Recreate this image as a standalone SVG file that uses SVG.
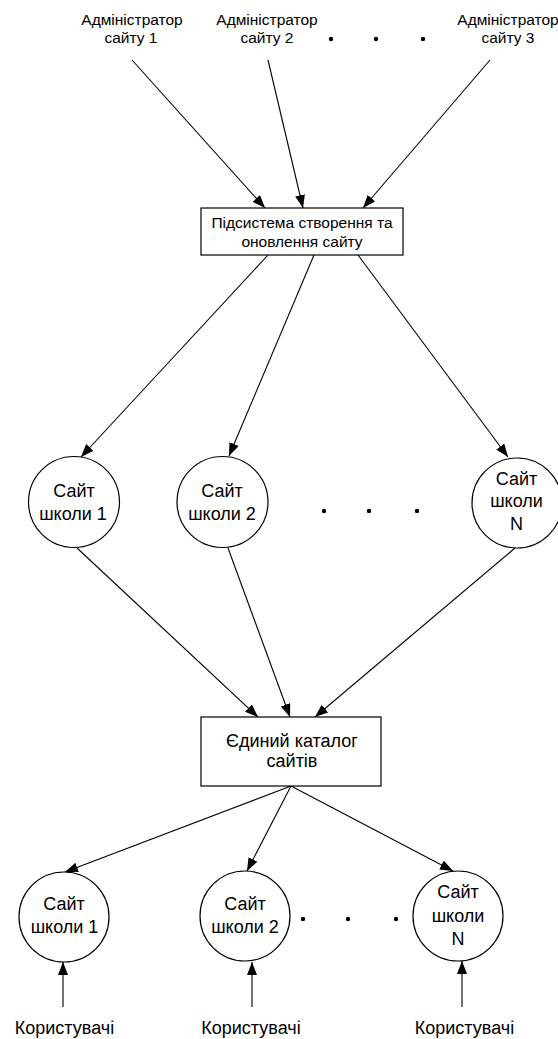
<svg xmlns="http://www.w3.org/2000/svg" width="558" height="1039" viewBox="0 0 558 1039">
<style>
text{font-family:"Liberation Sans",Arial,sans-serif;fill:#000;text-anchor:middle}
.s{font-size:15.5px}
.m{font-size:18px}
.n{fill:#fff;stroke:#000;stroke-width:1.2}
.c line{stroke:#000;stroke-width:1.1;marker-end:url(#a)}
</style>
<defs>
<marker id="a" markerUnits="userSpaceOnUse" markerWidth="14" markerHeight="11" refX="13" refY="5" orient="auto">
<path d="M0,0 L13,5 L0,10 z" fill="#000"/>
</marker>
</defs>
<rect width="558" height="1039" fill="#fff"/>
<g id="connectors" class="c">
<line x1="132" y1="60" x2="265" y2="208"/>
<line x1="268" y1="60" x2="303" y2="208"/>
<line x1="490" y1="60" x2="363" y2="208"/>
<line x1="268" y1="255" x2="81" y2="457"/>
<line x1="314" y1="255" x2="229" y2="456"/>
<line x1="358" y1="255" x2="508" y2="457"/>
<line x1="77" y1="548" x2="258" y2="717"/>
<line x1="228" y1="548" x2="290" y2="717"/>
<line x1="515" y1="548" x2="315" y2="717"/>
<line x1="291" y1="786" x2="65" y2="872"/>
<line x1="291" y1="786" x2="247" y2="871"/>
<line x1="291" y1="786" x2="453" y2="871"/>
<line x1="63" y1="1007" x2="63" y2="962"/>
<line x1="252" y1="1007" x2="252" y2="962"/>
<line x1="462" y1="1007" x2="462" y2="961"/>
</g>
<g id="admin1"><text class="s" x="132" y="25">Адміністратор</text><text class="s" x="131" y="43">сайту 1</text></g>
<g id="admin2"><text class="s" x="267" y="25">Адміністратор</text><text class="s" x="267" y="43">сайту 2</text></g>
<g id="admin3"><text class="s" x="508" y="25">Адміністратор</text><text class="s" x="508" y="43">сайту 3</text></g>
<g id="dots-top"><circle cx="331" cy="39" r="2.2"/><circle cx="376" cy="39" r="2.2"/><circle cx="423" cy="39" r="2.2"/></g>
<g id="subsystem"><rect class="n" x="201" y="208" width="202" height="47"/><text class="s" x="302" y="228">Підсистема створення та</text><text class="s" x="302" y="247">оновлення сайту</text></g>
<g id="site1"><circle class="n" cx="74" cy="502" r="45.5"/><text class="m" x="74" y="497">Сайт</text><text class="m" x="73" y="520">школи 1</text></g>
<g id="site2"><circle class="n" cx="222.5" cy="502" r="45.5"/><text class="m" x="222" y="497">Сайт</text><text class="m" x="222" y="520">школи 2</text></g>
<g id="dots-mid"><circle cx="324" cy="511" r="2.2"/><circle cx="369" cy="511" r="2.2"/><circle cx="417" cy="511" r="2.2"/></g>
<g id="siteN"><circle class="n" cx="517" cy="503" r="45"/><text class="m" x="516.5" y="485">Сайт</text><text class="m" x="516.5" y="507">школи</text><text class="m" x="516.5" y="530">N</text></g>
<g id="catalog"><rect class="n" x="201" y="717" width="180" height="69"/><text class="m" x="292" y="747">Єдиний каталог</text><text class="m" x="292" y="767">сайтів</text></g>
<g id="bsite1"><circle class="n" cx="64" cy="917" r="45"/><text class="m" x="64" y="910">Сайт</text><text class="m" x="64.5" y="933">школи 1</text></g>
<g id="bsite2"><circle class="n" cx="245" cy="916" r="45"/><text class="m" x="245" y="910">Сайт</text><text class="m" x="245" y="933">школи 2</text></g>
<g id="dots-bottom"><circle cx="303" cy="919" r="2.2"/><circle cx="348" cy="919" r="2.2"/><circle cx="396" cy="919" r="2.2"/></g>
<g id="bsiteN"><circle class="n" cx="458" cy="916" r="45"/><text class="m" x="458" y="898">Сайт</text><text class="m" x="458" y="922">школи</text><text class="m" x="458" y="945">N</text></g>
<g id="users1"><text class="m" x="64.5" y="1034">Користувачі</text></g>
<g id="users2"><text class="m" x="251" y="1034">Користувачі</text></g>
<g id="users3"><text class="m" x="464.5" y="1034">Користувачі</text></g>
</svg>
